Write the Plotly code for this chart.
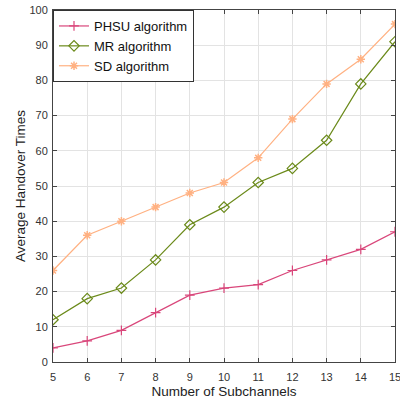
import plotly.graph_objects as go

subchannels = [5, 6, 7, 8, 9, 10, 11, 12, 13, 14, 15]
phsu = [4, 6, 9, 14, 19, 21, 22, 26, 29, 32, 37]
mr = [12, 18, 21, 29, 39, 44, 51, 55, 63, 79, 91]
sd = [26, 36, 40, 44, 48, 51, 58, 69, 79, 86, 96]

fig = go.Figure()
fig.add_trace(go.Scatter(
    x=subchannels, y=phsu, name="PHSU algorithm", mode="lines+markers",
    line=dict(color="#D9467A", width=1.2),
    marker=dict(symbol="cross-thin-open", size=7, color="#D9467A",
                line=dict(color="#D9467A", width=1.2))))
fig.add_trace(go.Scatter(
    x=subchannels, y=mr, name="MR algorithm", mode="lines+markers",
    line=dict(color="#6B8A1A", width=1.2),
    marker=dict(symbol="diamond-open", size=8, color="#6B8A1A",
                line=dict(color="#6B8A1A", width=1.2))))
fig.add_trace(go.Scatter(
    x=subchannels, y=sd, name="SD algorithm", mode="lines+markers",
    line=dict(color="#FFB182", width=1.2),
    marker=dict(symbol="asterisk-open", size=7, color="#FFB182",
                line=dict(color="#FFB182", width=1.5))))

axis_common = dict(
    showline=True, linecolor="#444444", linewidth=1, mirror="ticks",
    ticks="inside", ticklen=4, tickcolor="#444444",
    showgrid=True, gridcolor="#E3E3E3", gridwidth=1, zeroline=False,
    tickfont=dict(family="Liberation Sans, Arial", size=11, color="#333333"),
    ticklabeloverflow="allow",
)

fig.update_xaxes(range=[5, 15], dtick=1, ticklabelstandoff=5, **axis_common,
                 title=dict(text="Number of Subchannels", standoff=4,
                            font=dict(family="Liberation Sans, Arial", size=13.5, color="#222222")))
fig.update_yaxes(range=[0, 100], dtick=10, ticklabelstandoff=2, **axis_common,
                 title=dict(text="Average Handover Times", standoff=0,
                            font=dict(family="Liberation Sans, Arial", size=13.5, color="#222222")))

fig.update_layout(
    width=400, height=405,
    margin=dict(l=53, r=5, t=10, b=43, autoexpand=False),
    paper_bgcolor="white", plot_bgcolor="white",
    legend=dict(x=0, y=1, xanchor="left", yanchor="top",
                bgcolor="white", bordercolor="#333333", borderwidth=1,
                font=dict(family="Liberation Sans, Arial", size=13, color="#111111"),
                itemwidth=30, tracegroupgap=0),
    showlegend=True,
)

fig.write_html("out.html")
